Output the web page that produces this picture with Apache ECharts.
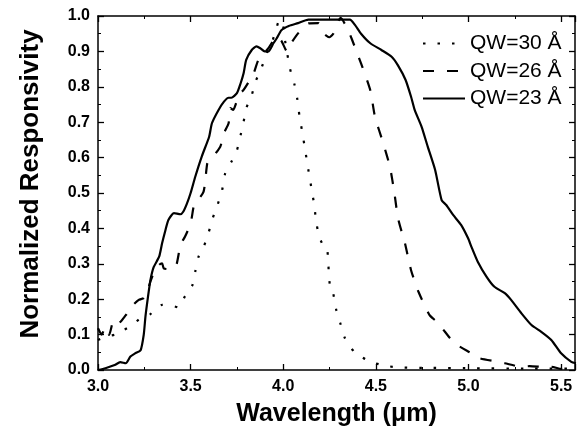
<!DOCTYPE html>
<html>
<head>
<meta charset="utf-8">
<script src="https://cdn.jsdelivr.net/npm/echarts@6/dist/echarts.min.js"></script>
<style>
  html, body { margin: 0; padding: 0; background: #fff; }
  #chart { width: 577px; height: 434px; }
</style>
</head>
<body>
<div id="chart"></div>
<script>
// legend names
const seriesNames = ['QW=30 Å', 'QW=26 Å', 'QW=23 Å'];

// QW=30 (dotted)
const wl30 = [3.00, 3.04, 3.094, 3.14, 3.184, 3.23, 3.283, 3.32, 3.346, 3.38, 3.435, 3.47, 3.51, 3.525, 3.543,
  3.57, 3.597, 3.62, 3.647, 3.67, 3.687, 3.72, 3.75, 3.77, 3.786, 3.80, 3.83, 3.85, 3.885, 3.91, 3.94, 3.96,
  3.98, 4.00, 4.01, 4.037, 4.06, 4.076, 4.087, 4.10, 4.114, 4.127, 4.14, 4.154, 4.168, 4.177, 4.193, 4.213,
  4.235, 4.243, 4.247, 4.258, 4.27, 4.285, 4.308, 4.333, 4.387, 4.468, 4.55, 4.63, 4.80, 5.00, 5.30, 5.58];
const r30 = [0.085, 0.094, 0.100, 0.113, 0.127, 0.146, 0.158, 0.177, 0.184, 0.184, 0.177, 0.209, 0.240, 0.278, 0.320,
  0.347, 0.388, 0.430, 0.469, 0.508, 0.556, 0.588, 0.621, 0.664, 0.701, 0.739, 0.777, 0.814, 0.857, 0.894, 0.927, 0.960,
  0.990, 0.970, 0.930, 0.850, 0.808, 0.765, 0.720, 0.680, 0.636, 0.593, 0.551, 0.508, 0.464, 0.422, 0.379, 0.355,
  0.347, 0.306, 0.262, 0.219, 0.215, 0.172, 0.132, 0.090, 0.049, 0.024, 0.012, 0.007, 0.006, 0.005, 0.004, 0.004];

// QW=26 (dashed)
const wl26 = [3.00, 3.02, 3.04, 3.06, 3.085, 3.11, 3.15, 3.19, 3.22, 3.247, 3.265, 3.283, 3.30, 3.33, 3.346, 3.355,
  3.38, 3.42, 3.445, 3.47, 3.50, 3.516, 3.525, 3.57, 3.59, 3.606, 3.66, 3.68, 3.705, 3.714, 3.73, 3.76, 3.786,
  3.84, 3.866, 3.92, 3.965, 3.99, 4.02, 4.03, 4.08, 4.136, 4.19, 4.22, 4.25, 4.27, 4.31, 4.35, 4.37, 4.42, 4.47,
  4.495, 4.54, 4.576, 4.60, 4.62, 4.657, 4.69, 4.73, 4.79, 4.83, 4.90, 4.926, 5.016, 5.06, 5.15, 5.196, 5.286,
  5.33, 5.42, 5.447, 5.50, 5.58];
const r26 = [0.118, 0.100, 0.122, 0.099, 0.141, 0.132, 0.155, 0.184, 0.198, 0.203, 0.221, 0.250, 0.273, 0.297, 0.301, 0.287,
  0.285, 0.292, 0.353, 0.377, 0.414, 0.461, 0.470, 0.504, 0.584, 0.593, 0.631, 0.669, 0.697, 0.740, 0.735, 0.777, 0.791,
  0.838, 0.876, 0.909, 0.942, 0.930, 0.900, 0.913, 0.951, 0.979, 0.980, 0.950, 0.940, 0.950, 0.995, 0.960, 0.935, 0.866, 0.790,
  0.716, 0.640, 0.574, 0.500, 0.428, 0.358, 0.282, 0.221, 0.155, 0.136, 0.090, 0.075, 0.047, 0.033, 0.024, 0.019, 0.009,
  0.011, 0.008, 0.009, 0.003, 0.002];

// QW=23 (solid)
const wl23 = [3.00, 3.04, 3.09, 3.12, 3.15, 3.175, 3.20, 3.23, 3.247, 3.256, 3.27, 3.283, 3.30, 3.33, 3.346, 3.364,
  3.38, 3.41, 3.445, 3.46, 3.48, 3.50, 3.525, 3.56, 3.60, 3.615, 3.65, 3.68, 3.705, 3.72, 3.75, 3.77, 3.786, 3.80,
  3.83, 3.855, 3.876, 3.90, 3.92, 3.947, 3.965, 3.99, 4.03, 4.08, 4.136, 4.21, 4.28, 4.36, 4.387, 4.42, 4.47, 4.53,
  4.585, 4.62, 4.66, 4.69, 4.71, 4.747, 4.78, 4.82, 4.855, 4.88, 4.917, 4.96, 4.998, 5.016, 5.05, 5.097, 5.14,
  5.196, 5.23, 5.286, 5.34, 5.393, 5.447, 5.50, 5.555, 5.58];
const r23 = [0.000, 0.005, 0.014, 0.022, 0.019, 0.038, 0.047, 0.056, 0.100, 0.150, 0.207, 0.254, 0.290, 0.320, 0.358, 0.395,
  0.424, 0.443, 0.440, 0.447, 0.470, 0.500, 0.546, 0.603, 0.659, 0.697, 0.734, 0.758, 0.769, 0.769, 0.782, 0.810, 0.838, 0.876,
  0.904, 0.914, 0.909, 0.900, 0.900, 0.923, 0.937, 0.960, 0.972, 0.980, 0.990, 0.990, 0.990, 0.990, 0.975, 0.950, 0.923, 0.904,
  0.885, 0.860, 0.820, 0.772, 0.734, 0.687, 0.631, 0.565, 0.480, 0.466, 0.438, 0.410, 0.372, 0.348, 0.306, 0.264, 0.235,
  0.217, 0.198, 0.160, 0.127, 0.108, 0.085, 0.047, 0.023, 0.019];

const xMin = 3.0, xMax = 5.575, xStep = 0.5;
const yMin = 0, yMax = 1.0, yStep = 0.1;

const font = 'Liberation Sans, Arial, sans-serif';
const pairs = (xs, ys) => xs.map((x, i) => [x, ys[i]]);

const chart = echarts.init(document.getElementById('chart'));

const frameX = (pos, showLabels) => ({
    type: 'value',
    position: pos,
    min: xMin,
    max: xMax,
    interval: xStep,
    axisLine: { show: true, onZero: false, lineStyle: { color: '#000', width: 1.5 } },
    axisTick: { show: true, inside: true, length: 6, lineStyle: { color: '#000', width: 1.3 } },
    minorTick: { show: true, splitNumber: 2, length: 3, lineStyle: { color: '#000', width: 1 } },
    splitLine: { show: false },
    axisLabel: {
        show: showLabels,
        showMaxLabel: false,
        margin: 9,
        color: '#000',
        fontFamily: font,
        fontWeight: 'bold',
        fontSize: 16,
        formatter: v => v.toFixed(1)
    }
});

const frameY = (pos, showLabels) => ({
    type: 'value',
    position: pos,
    min: yMin,
    max: yMax,
    interval: yStep,
    axisLine: { show: true, onZero: false, lineStyle: { color: '#000', width: 1.5 } },
    axisTick: { show: true, inside: true, length: 6, lineStyle: { color: '#000', width: 1.3 } },
    minorTick: { show: true, splitNumber: 2, length: 3, lineStyle: { color: '#000', width: 1 } },
    splitLine: { show: false },
    axisLabel: {
        show: showLabels,
        margin: 8,
        color: '#000',
        fontFamily: font,
        fontWeight: 'bold',
        fontSize: 16,
        formatter: v => v.toFixed(1)
    }
});

const xBottom = frameX('bottom', true);
xBottom.name = 'Wavelength (μm)';
xBottom.nameLocation = 'middle';
xBottom.nameGap = 32;
xBottom.nameTextStyle = { color: '#000', fontFamily: font, fontWeight: 'bold', fontSize: 25 };

const yLeft = frameY('left', true);
yLeft.name = 'Normalized Responsivity';
yLeft.nameLocation = 'middle';
yLeft.nameGap = 54;
yLeft.nameTextStyle = { color: '#000', fontFamily: font, fontWeight: 'bold', fontSize: 26, padding: [0, 0, 0, 18] };

const lineSeries = (name, xs, ys, type, width) => ({
    name: name,
    type: 'line',
    xAxisIndex: 0,
    yAxisIndex: 0,
    symbol: 'none',
    smooth: 0.2,
    lineStyle: { color: '#000', width: width, type: type, cap: 'butt' },
    itemStyle: { color: '#000' },
    data: pairs(xs, ys),
    animation: false
});

chart.setOption({
    animation: false,
    backgroundColor: '#fff',
    grid: { left: 98, right: 2, top: 16, bottom: 64, containLabel: false },
    legend: {
        orient: 'vertical',
        left: 417,
        top: 28,
        itemWidth: 42,
        itemHeight: 14,
        itemGap: 6.5,
        itemTextGap: 7,
        itemStyle: { opacity: 0 },
        textStyle: { color: '#000', fontFamily: font, fontSize: 21 },
        data: seriesNames
    },
    xAxis: [xBottom, frameX('top', false)],
    yAxis: [yLeft, frameY('right', false)],
    series: [
        lineSeries(seriesNames[0], wl30, r30, [2.5, 12], 2.2),
        lineSeries(seriesNames[1], wl26, r26, [11, 13], 2.2),
        lineSeries(seriesNames[2], wl23, r23, 'solid', 2.2)
    ]
});
</script>
</body>
</html>
